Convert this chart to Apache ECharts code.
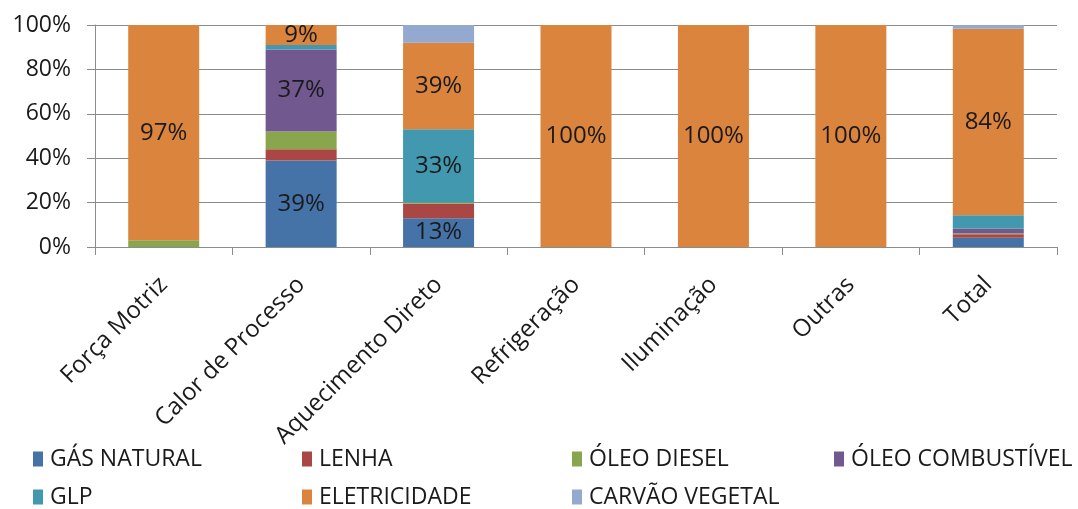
<!DOCTYPE html>
<html>
<head>
<meta charset="utf-8">
<script src="https://cdn.jsdelivr.net/npm/echarts@6/dist/echarts.min.js"></script>
<style>
  html, body { margin: 0; padding: 0; background: #ffffff; }
  #chart { width: 1078px; height: 509px; }
</style>
</head>
<body>
<div id="chart"></div>
<script>
// Usos finais (categorias do eixo X)
const categorias = ['Força Motriz', 'Calor de Processo', 'Aquecimento Direto', 'Refrigeração', 'Iluminação', 'Outras', 'Total'];

// Participação de cada energético (%) por uso final
const gasNatural      = [0, 39, 13,   0,   0,   0, 4.2];
const lenha           = [0, 5,  6.5,  0,   0,   0, 1.5];
const oleoDiesel      = [3, 8,  0.5,  0,   0,   0, 0.5];
const oleoCombustivel = [0, 37, 0,    0,   0,   0, 2.1];
const glp             = [0, 2,  33,   0,   0,   0, 6];
const eletricidade    = [97, 9, 39, 100, 100, 100, 84];
const carvaoVegetal   = [0, 0,  8,    0,   0,   0, 1.7];

const nomesSeries = ['GÁS NATURAL', 'LENHA', 'ÓLEO DIESEL', 'ÓLEO COMBUSTÍVEL', 'GLP', 'ELETRICIDADE', 'CARVÃO VEGETAL'];
const valoresSeries = [gasNatural, lenha, oleoDiesel, oleoCombustivel, glp, eletricidade, carvaoVegetal];
const cores = ['#4572A7', '#AA4643', '#89A54E', '#71588F', '#4198AF', '#DB843D', '#93A9CF'];

// Rótulos do eixo Y
const rotulosY = ['0%', '20%', '40%', '60%', '80%', '100%'];

const FONTE = '"Open Sans", "Liberation Sans", sans-serif';

// Posição de cada item da legenda (duas linhas, quatro colunas)
const colunasLegenda = [33, 302, 572, 834];
const linhasLegenda = [447, 485];

const legendas = nomesSeries.map((nome, i) => ({
  data: [nome],
  left: colunasLegenda[i % 4],
  top: linhasLegenda[Math.floor(i / 4)],
  padding: 0,
  itemWidth: 10,
  itemHeight: 15,
  icon: 'rect',
  selectedMode: false,
  textStyle: { fontFamily: FONTE, fontSize: 23, color: '#1a1a1a', padding: [0, 0, 0, 2], lineHeight: 24 }
}));

const series = nomesSeries.map((nome, i) => ({
  name: nome,
  type: 'bar',
  stack: 'total',
  barWidth: 71,
  itemStyle: { color: cores[i] },
  label: {
    show: true,
    position: 'inside',
    fontFamily: FONTE,
    fontSize: 24,
    color: '#1a1a1a',
    formatter: p => (p.value >= 9 ? Math.round(p.value) + '%' : '')
  },
  data: valoresSeries[i]
}));

const chart = echarts.init(document.getElementById('chart'), null, { renderer: 'canvas' });
chart.setOption({
  animation: false,
  backgroundColor: '#ffffff',
  grid: { left: 95, right: 21, top: 25, bottom: 262, containLabel: false },
  legend: legendas,
  xAxis: {
    type: 'category',
    data: categorias,
    axisLine: { lineStyle: { color: '#8c8c8c', width: 1 } },
    axisTick: { show: true, length: 8, lineStyle: { color: '#8c8c8c' } },
    axisLabel: {
      rotate: 45,
      margin: 34,
      fontFamily: FONTE,
      fontSize: 24,
      color: '#1a1a1a',
      interval: 0
    }
  },
  yAxis: {
    type: 'value',
    min: 0,
    max: 100,
    interval: 20,
    axisLine: { show: true, lineStyle: { color: '#8c8c8c', width: 1 } },
    axisTick: { show: true, length: 8, lineStyle: { color: '#8c8c8c' } },
    splitLine: { lineStyle: { color: '#8c8c8c', width: 1 } },
    axisLabel: {
      margin: 24,
      fontFamily: FONTE,
      fontSize: 23,
      color: '#1a1a1a',
      formatter: v => rotulosY[Math.round(v / 20)]
    }
  },
  series: series
});
</script>
</body>
</html>
